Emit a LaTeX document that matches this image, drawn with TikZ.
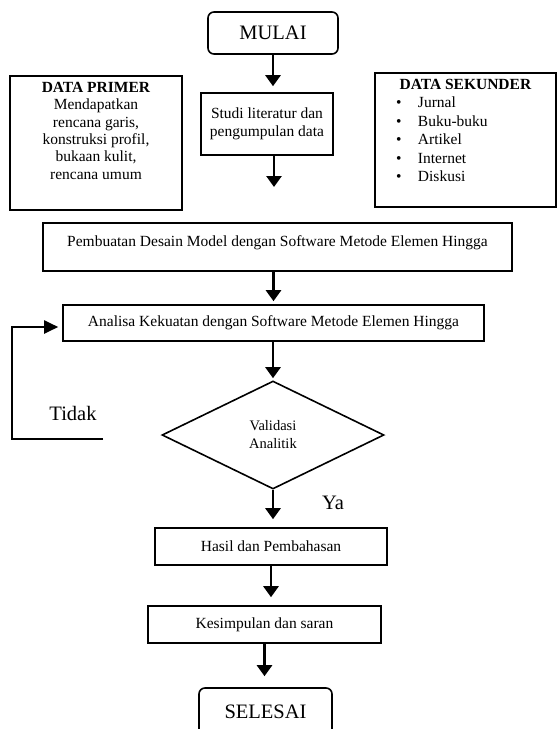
\documentclass[tikz,border=0pt]{standalone}
\usepackage{fontspec}
\setmainfont{Liberation Serif}
\usetikzlibrary{shapes.geometric,arrows.meta}
\newcommand{\poin}{\hspace*{21pt}\makebox[22pt][l]{\textbullet}}

\begin{document}
\begin{tikzpicture}[x=1pt, y=-1pt,
  box/.style={draw, line width=1.6pt, inner sep=0pt, align=center, font=\fontsize{15.5}{18}\selectfont},
  endbox/.style={box, rounded corners=6pt, font=\fontsize{20.5}{24}\selectfont},
  flow/.style={line width=2.6pt, -{Triangle[width=15pt,length=11pt]}},
  back/.style={line width=2pt, -{Triangle[width=13pt,length=14pt]}},
  answer/.style={font=\fontsize{20.5}{24}\selectfont, inner sep=0pt}]
\useasboundingbox (0,0) rectangle (558,729);
\clip (0,0) rectangle (558,729);
\node[endbox, minimum width=130pt, minimum height=42pt] (mulai) at (273,33) {MULAI};
\node[box, minimum width=132pt, minimum height=62pt] (studi) at (267,124) {Studi literatur dan\\pengumpulan data};
\node[draw, line width=1.6pt, inner sep=0pt] (primer) at (96,143) {\parbox[c][134pt][t]{172pt}{\fontsize{15.5}{17.4}\selectfont\vspace*{6pt}\centering
  \textbf{DATA PRIMER}\\Mendapatkan\\rencana garis,\\konstruksi profil,\\bukaan kulit,\\rencana umum}};
\node[draw, line width=1.6pt, inner sep=0pt] (sekunder) at (465.5,140) {\parbox[c][134pt][t]{181pt}{\fontsize{15.5}{18.5}\selectfont\vspace*{6pt}\centering
  \textbf{DATA SEKUNDER}\par\raggedright
  \poin Jurnal\\\poin Buku-buku\\\poin Artikel\\\poin Internet\\\poin Diskusi}};
\node[box, minimum width=469pt, inner ysep=12pt, text height=11pt, text depth=13pt] (desain) at (277.5,247) {Pembuatan Desain Model dengan Software Metode Elemen Hingga};
\node[box, minimum width=421pt, minimum height=36pt] (analisa) at (273.5,323) {Analisa Kekuatan dengan Software Metode Elemen Hingga};
\node[box, diamond, aspect=2, minimum width=222pt, minimum height=108pt, font=\fontsize{14.5}{18}\selectfont] (valid) at (273,435) {Validasi\\Analitik};
\node[box, minimum width=232pt, minimum height=37pt] (hasil) at (271,546.5) {Hasil dan Pembahasan};
\node[box, minimum width=233pt, minimum height=37pt] (simpul) at (264.5,624.5) {Kesimpulan dan saran};
\node[endbox, minimum width=133pt, minimum height=48pt] (selesai) at (265.5,712) {SELESAI};
\node[answer] (tidak) at (73,413) {Tidak};
\node[answer] (ya) at (333,503) {Ya};
\coordinate (studiend) at (274,187);
\coordinate (loopstart) at (103,439);
\coordinate (loopcorner) at (12,439);
% alur utama
\draw[flow, shorten >=6pt] (mulai.south) -- (mulai.south |- studi.north);
\draw[flow] (studi.south -| studiend) -- (studiend);
\draw[flow, shorten >=3pt] (desain.south -| analisa.north) -- (analisa.north);
\draw[flow, shorten >=2pt] (analisa.south -| valid.north) -- (valid.north);
\draw[flow, shorten >=8pt] (valid.south) -- (valid.south |- hasil.north);
\draw[flow, shorten >=8pt] (hasil.south) -- (hasil.south |- simpul.north);
\draw[flow, shorten >=11pt] (simpul.south) -- (simpul.south |- selesai.north);
% kembali jika tidak valid
\draw[back, shorten >=4pt] (loopstart) -- (loopcorner) |- ([yshift=-4pt]analisa.west);
\end{tikzpicture}
\end{document}
